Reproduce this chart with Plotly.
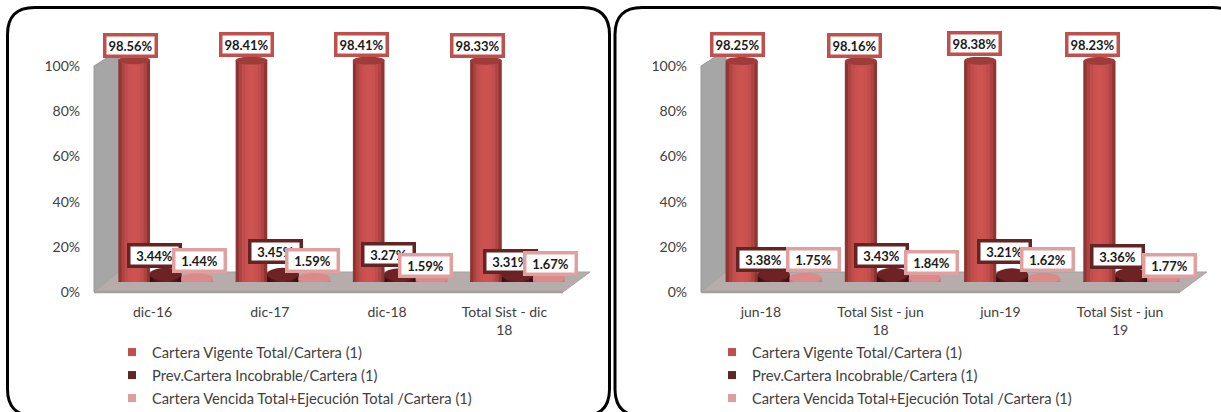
import plotly.graph_objects as go

W, H = 1221, 412

series_names = ["Cartera Vigente Total/Cartera (1)",
                "Prev.Cartera Incobrable/Cartera (1)",
                "Cartera Vencida Total+Ejecución Total /Cartera (1)"]

cats_left = ["dic-16", "dic-17", "dic-18", "Total Sist - dic<br>18"]
vigente_left = [98.56, 98.41, 98.41, 98.33]
incobrable_left = [3.44, 3.45, 3.27, 3.31]
vencida_left = [1.44, 1.59, 1.59, 1.67]

cats_right = ["jun-18", "Total Sist - jun<br>18", "jun-19", "Total Sist - jun<br>19"]
vigente_right = [98.25, 98.16, 98.38, 98.23]
incobrable_right = [3.38, 3.43, 3.21, 3.36]
vencida_right = [1.75, 1.84, 1.62, 1.77]

y_ticks = [0, 20, 40, 60, 80, 100]
y_tick_labels = ["0%", "20%", "40%", "60%", "80%", "100%"]

# colours: shades go from the cylinder edge to its centre
shades = [["#8E3533", "#AE4442", "#C04D4B", "#C9514F", "#CD5351"],
          ["#3E0F10", "#4C1516", "#5A1B1C", "#662123", "#6E2527"],
          ["#C27E7D", "#D08A89", "#DA9594", "#E09C9B", "#E4A3A2"]]
caps = ["#9E3C3A", "#6F2224", "#D98A89"]
bottoms = ["#B04543", "#4A1415", "#C98382"]
borders = ["#C0504D", "#632523", "#E0A0A0"]
swatches = ["#C0504D", "#632523", "#E09C9B"]
cap_h = [8, 13, 11]

# label offsets in pixels from the top of each bar
dx_left = [[-4, -11, 2], [-4.5, -7, -2], [-7, -12, -6.5], [-8, -7, 2]]
dy_left = [[15, 19, 18], [15.6, 23, 18], [15.6, 20.6, 13], [15, 13.5, 15]]
dx_right = [[-4.6, -10.6, 8.4], [-6, -11, 7], [-5.4, -7.4, 3.6], [-6.8, -13.8, 6.2]]
dy_right = [[16, 15, 19], [16, 19, 15], [17, 23, 19], [16, 18, 13]]
legend_bottoms = [369, 392, 415]


def px(x):
    return x / W


def py(y):
    return 1 - y / H


def paper_path(points):
    # pixel points -> path in paper coordinates
    out = ""
    for cmd, pts in points:
        out += cmd + " ".join("%.5f,%.5f" % (px(a), py(b)) for a, b in pts) + " "
    return out.strip()


fig = go.Figure()
shapes = []
annotations = []


def rounded_panel(x0, x1, y0, y1, r):
    path = paper_path([("M", [(x0, y0 + r)]), ("Q", [(x0, y0), (x0 + r, y0)]),
                       ("L", [(x1 - r, y0)]), ("Q", [(x1, y0), (x1, y0 + r)]),
                       ("L", [(x1, y1 - r)]), ("Q", [(x1, y1), (x1 - r, y1)]),
                       ("L", [(x0 + r, y1)]), ("Q", [(x0, y1), (x0, y1 - r)]), ("Z", [])])
    shapes.append(dict(type="path", xref="paper", yref="paper", path=path,
                       line=dict(color="black", width=3), layer="above"))


def walls(x0, x1):
    # grey side wall and floor of the fake 3D box
    dx, dy = 25, 20
    wall = paper_path([("M", [(x0, 292)]), ("L", [(x0, 66)]), ("L", [(x0 + dx, 50)]),
                       ("L", [(x0 + dx, 292 - dy)]), ("Z", [])])
    floor = paper_path([("M", [(x0, 292)]), ("L", [(x0 + dx, 292 - dy)]), ("L", [(x1 + dx + 2, 292 - dy)]),
                        ("L", [(x1, 292)]), ("Z", [])])
    shapes.append(dict(type="path", xref="paper", yref="paper", path=wall,
                       fillcolor="#A6A6A6", line=dict(color="#999999", width=1), layer="below"))
    shapes.append(dict(type="path", xref="paper", yref="paper", path=floor,
                       fillcolor="#B6ACAC", line=dict(color="#A6A6A6", width=1), layer="below"))
    shapes.append(dict(type="line", xref="paper", yref="paper", x0=px(x0), x1=px(x1), y0=py(292), y1=py(292),
                       line=dict(color="#A0A0A0", width=2.5), layer="below"))


def panel(cats, groups, xa, ya, dxs, dys):
    bar_w = 0.27
    step = 0.268
    for s, vals in enumerate(groups):
        centre = (s - 1) * step
        n = len(shades[s])
        for k, col in enumerate(shades[s]):
            w = bar_w * (1 - k / n)
            fig.add_trace(go.Bar(x=cats, y=vals, xaxis=xa, yaxis=ya, width=w, offset=centre - w / 2,
                                 marker=dict(color=col, line=dict(width=0)), showlegend=False,
                                 hoverinfo="skip"))
        for i, v in enumerate(vals):
            shapes.append(dict(type="circle", xref=xa, yref=ya, xsizemode="pixel", ysizemode="pixel",
                               xanchor=i + centre, yanchor=0, x0=-16, x1=16, y0=-cap_h[s] / 2, y1=cap_h[s] / 2,
                               fillcolor=bottoms[s], line=dict(width=0), layer="below"))
            shapes.append(dict(type="circle", xref=xa, yref=ya, xsizemode="pixel", ysizemode="pixel",
                               xanchor=i + centre, yanchor=v, x0=-16, x1=16, y0=-cap_h[s] / 2, y1=cap_h[s] / 2,
                               fillcolor=caps[s], line=dict(width=0), layer="above"))
            annotations.append(dict(x=i + centre, y=v, xref=xa, yref=ya, xshift=dxs[i][s], yshift=dys[i][s],
                                    xanchor="center", yanchor="middle",
                                    text="<b>%.2f%%</b>" % v, showarrow=False, width=48, height=18,
                                    bgcolor="white", bordercolor=borders[s], borderwidth=3.5, borderpad=0,
                                    font=dict(family="Lato", size=13, color="#1A1A1A")))


rounded_panel(7.5, 609.5, 7.5, 416, 27)
rounded_panel(615, 1240, 7.5, 416, 27)
walls(94, 563)
walls(701, 1180)

panel(cats_left, [vigente_left, incobrable_left, vencida_left], "x", "y", dx_left, dy_left)
panel(cats_right, [vigente_right, incobrable_right, vencida_right], "x2", "y2", dx_right, dy_right)

# front axes, only used for the tick labels
fig.add_trace(go.Scatter(x=cats_left, y=vigente_left, xaxis="x3", yaxis="y3", mode="markers",
                         marker=dict(opacity=0), showlegend=False, hoverinfo="skip"))
fig.add_trace(go.Scatter(x=cats_right, y=vigente_right, xaxis="x4", yaxis="y4", mode="markers",
                         marker=dict(opacity=0), showlegend=False, hoverinfo="skip"))

# one small legend per row so the rows can be spaced like the original
legends = {}
n_leg = 0
for x_leg in [112, 712]:
    for s, name in enumerate(series_names):
        n_leg += 1
        key = "legend" if n_leg == 1 else "legend%d" % n_leg
        fig.add_trace(go.Scatter(x=[None], y=[None], mode="markers", name=name, legend=key,
                                 marker=dict(symbol="square", size=8, color=swatches[s])))
        legends[key] = dict(x=px(x_leg), y=py(legend_bottoms[s]), xanchor="left", yanchor="bottom",
                            font=dict(family="Lato", size=14.7, color="#404040"),
                            bgcolor="rgba(0,0,0,0)", itemwidth=30,
                            itemclick=False, itemdoubleclick=False)

hidden_x = dict(visible=False, range=[-0.5, 3.5], type="category")
hidden_y = dict(visible=False, range=[0, 100])
font = dict(family="Lato", size=14, color="#404040")
label_x = dict(range=[-0.5, 3.5], type="category", showgrid=False, zeroline=False, showline=False,
               ticklen=0, ticklabelstandoff=10, tickfont=font)
label_y = dict(range=[0, 100], showgrid=False, zeroline=False, showline=False, tickvals=y_ticks,
               ticktext=y_tick_labels, ticklen=0, ticklabelstandoff=13, tickfont=font)

fig.update_layout(
    width=W, height=H, margin=dict(l=0, r=0, t=0, b=0, autoexpand=False), autosize=False,
    paper_bgcolor="white", plot_bgcolor="rgba(0,0,0,0)", barmode="overlay",
    shapes=shapes, annotations=annotations,
    xaxis=dict(hidden_x, domain=[px(107), px(576)], anchor="y"),
    yaxis=dict(hidden_y, domain=[py(282), py(57)], anchor="x"),
    xaxis2=dict(hidden_x, domain=[px(714), px(1191)], anchor="y2"),
    yaxis2=dict(hidden_y, domain=[py(282), py(57)], anchor="x2"),
    xaxis3=dict(label_x, domain=[px(94), px(563)], anchor="y3"),
    yaxis3=dict(label_y, domain=[py(292), py(66)], anchor="x3"),
    xaxis4=dict(label_x, domain=[px(701), px(1180)], anchor="y4"),
    yaxis4=dict(label_y, domain=[py(292), py(66)], anchor="x4"),
    **legends,
)

# the page has a default body margin, drop it so the figure fills the window
fig.write_html("out.html", config=dict(displayModeBar=False),
               post_script="document.body.style.margin='0';")
